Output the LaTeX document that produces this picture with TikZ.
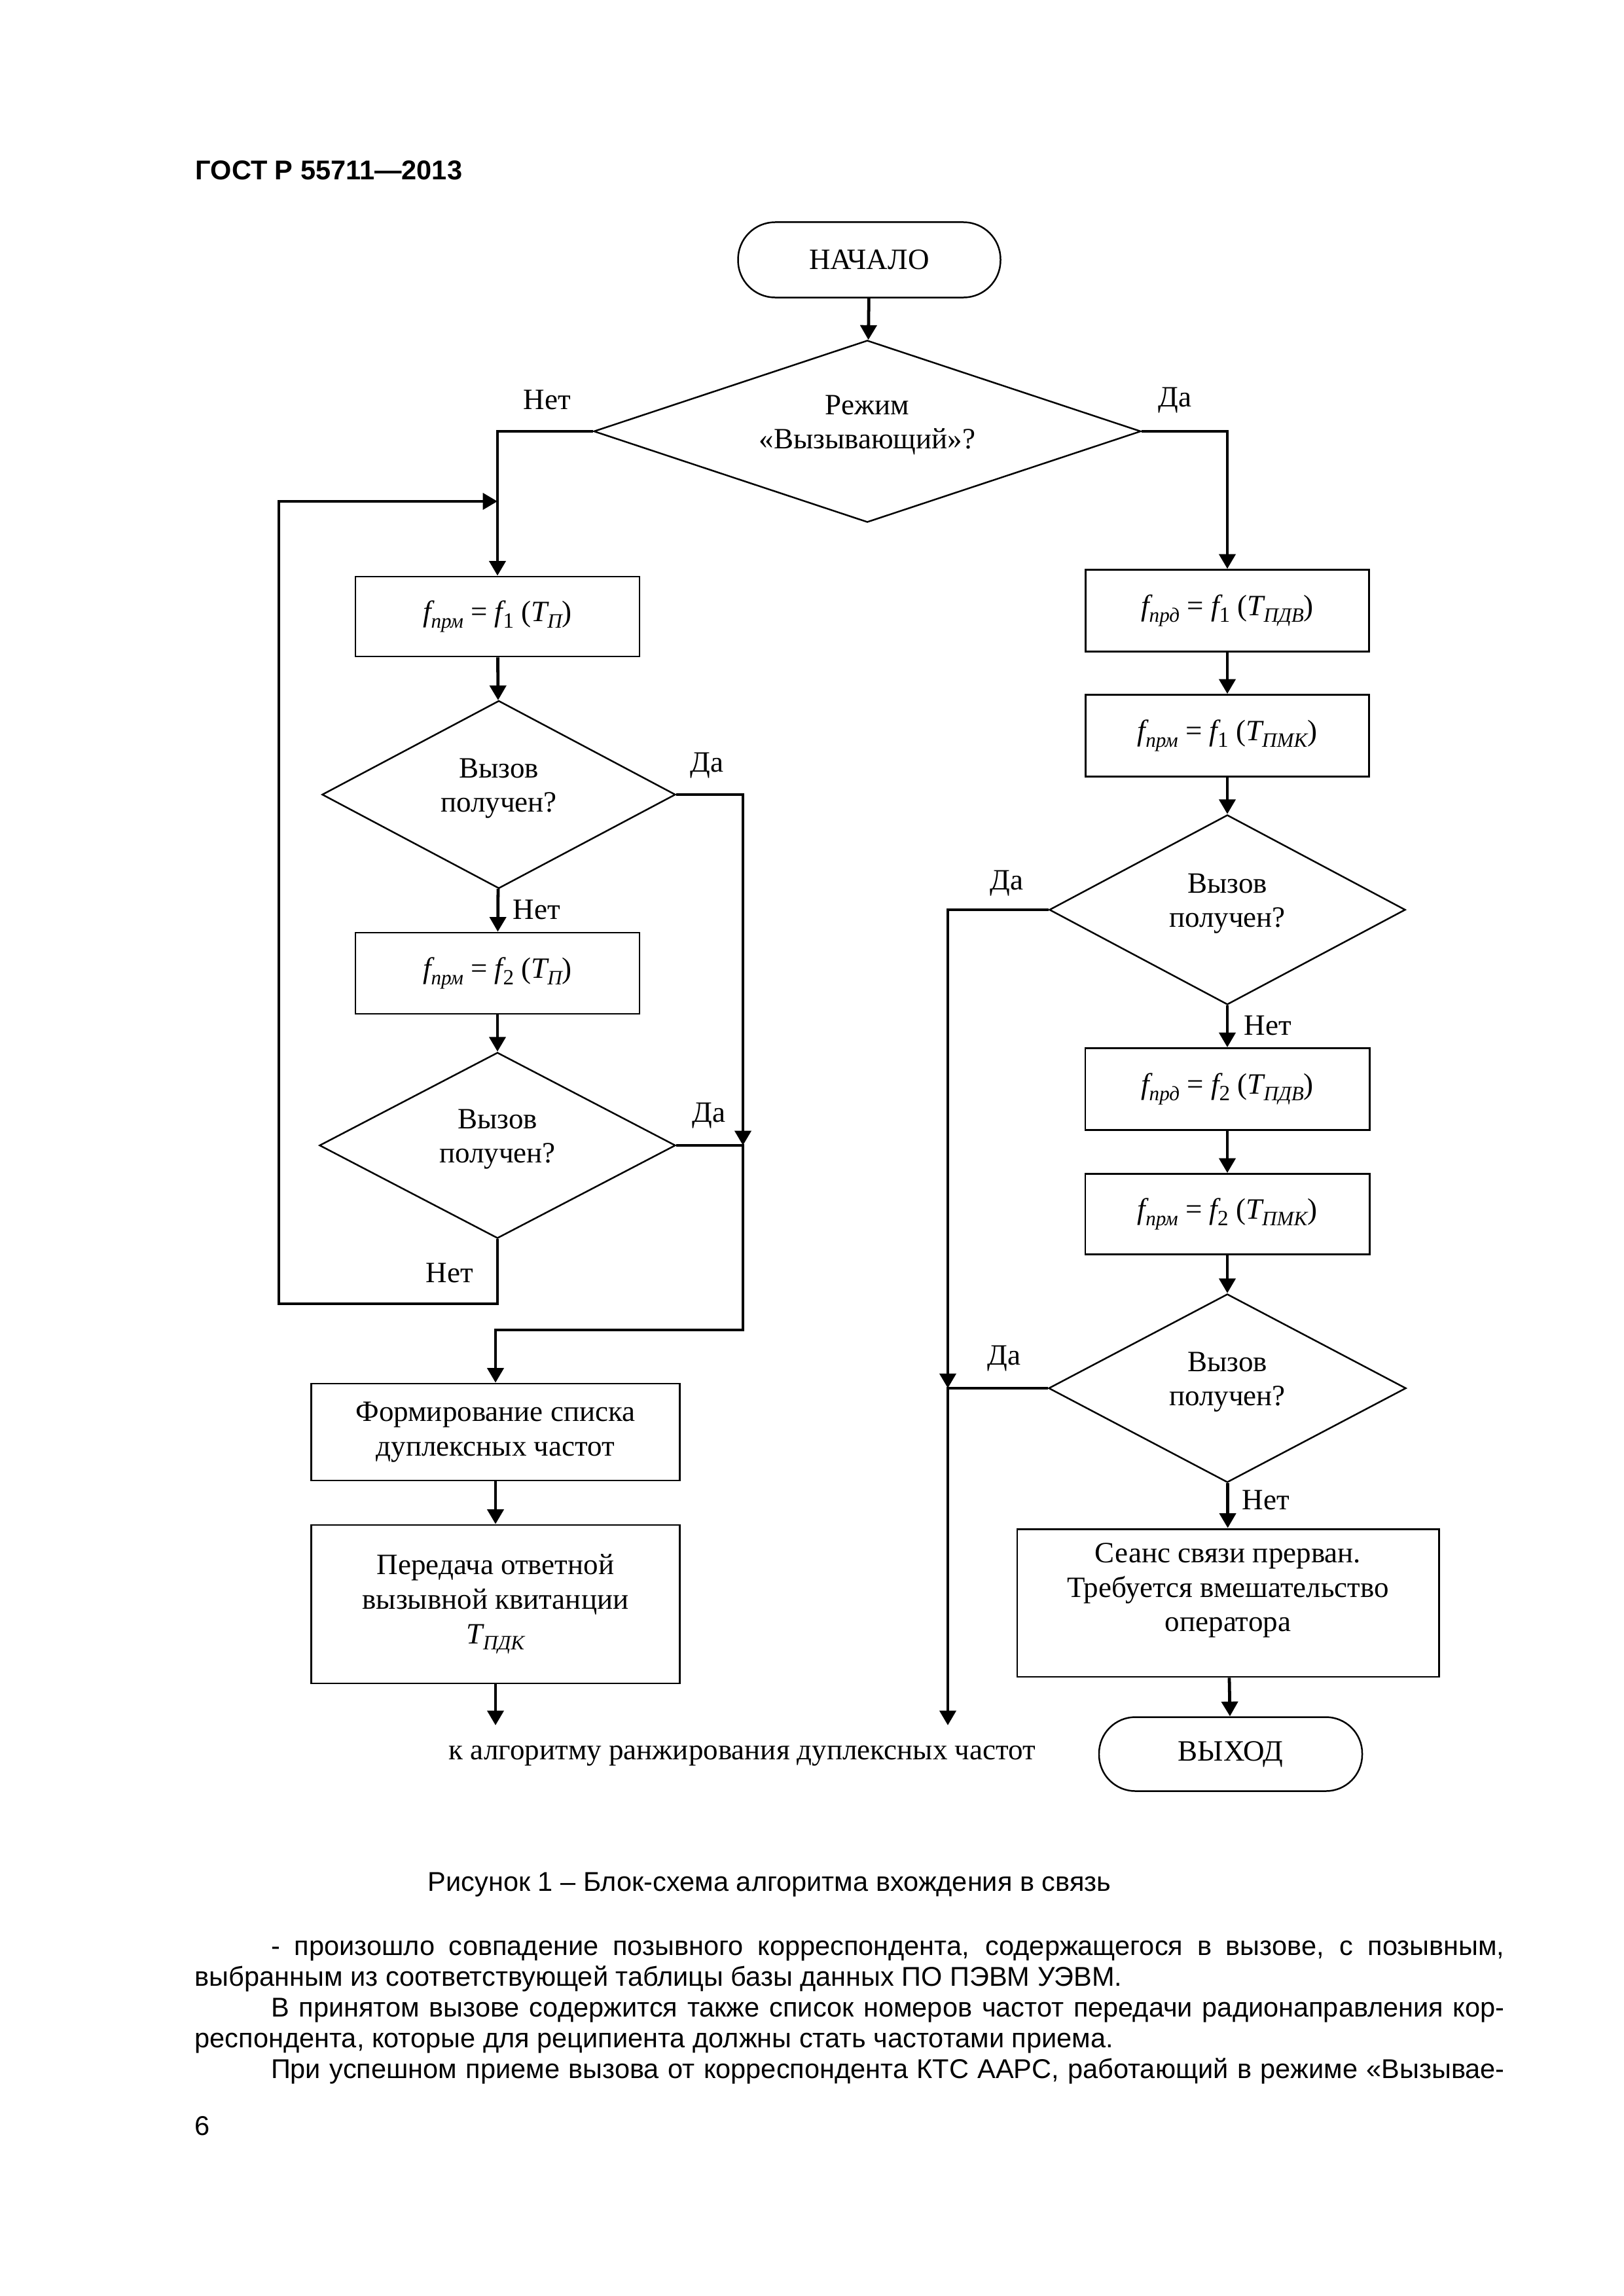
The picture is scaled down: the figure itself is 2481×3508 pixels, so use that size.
\documentclass[tikz,border=0pt]{standalone}
\usepackage{fontspec}
\setmainfont{Liberation Serif}
\newfontfamily\arialf{Liberation Sans}
\usetikzlibrary{shapes.geometric,arrows.meta}
\newcommand{\isb}[1]{\raisebox{-0.45ex}{\fontsize{7.5}{8}\selectfont\itshape #1}}
\newcommand{\nsb}[1]{\raisebox{-0.45ex}{\fontsize{8}{8}\selectfont #1}}
\newcommand{\fx}{{\itshape f}}
\newcommand{\Tx}{{\itshape T}}
\begin{document}
\begin{tikzpicture}[x=0.0846667mm,y=-0.0846667mm,
  font=\fontsize{10.85}{12.7}\selectfont,
  conn/.style={line width=1.15pt,-{Triangle[length=1.9mm,width=2.1mm]}},
  plain/.style={line width=1.15pt},
  box/.style={draw,rectangle,line width=0.7pt,align=center,inner sep=0pt},
  dia/.style={draw,diamond,line width=0.6pt,inner sep=0pt},
  term/.style={draw,rectangle,rounded corners=4.8mm,line width=0.6pt,inner sep=0pt},
  lbl/.style={align=center,yshift=0.8mm},
  yn/.style={inner sep=0pt},
  sans/.style={font=\arialf\fontsize{10}{11.3}\selectfont,inner sep=0pt}]
\useasboundingbox (0,0) rectangle (2481,3508);

% header
\node[sans,font=\arialf\bfseries\fontsize{10}{12}\selectfont,anchor=base west] (hdr) at (298,274) {ГОСТ Р 55711—2013};

% start / first decision
\node[term,minimum width=33.95mm,minimum height=9.74mm] (start) at (1328,397) {НАЧАЛО};
\node[dia,minimum width=70.78mm,minimum height=23.54mm,
  label={[lbl]center:Режим\\«Вызывающий»?}] (d0) at (1325,659) {};

% left column
\node[box,minimum width=36.75mm,minimum height=10.33mm] (bl1) at (760,942) {\fx\isb{прм} = \fx\nsb{1} (\Tx\isb{П})};
\node[dia,minimum width=45.72mm,minimum height=24.30mm,
  label={[lbl]center:Вызов\\получен?}] (d1) at (762,1214) {};
\node[box,minimum width=36.75mm,minimum height=10.50mm] (bl2) at (760,1487) {\fx\isb{прм} = \fx\nsb{2} (\Tx\isb{П})};
\node[dia,minimum width=46.06mm,minimum height=24.05mm,
  label={[lbl]center:Вызов\\получен?}] (d2) at (760,1750) {};
\node[box,minimum width=47.67mm,minimum height=12.53mm] (bf) at (757,2188) {Формирование списка\\дуплексных частот};
\node[box,minimum width=47.67mm,minimum height=20.49mm] (bp) at (757,2451) {Передача ответной\\вызывной квитанции\\\Tx\isb{ПДК}};

% right column
\node[box,minimum width=36.66mm,minimum height=10.58mm] (br1) at (1875,933) {\fx\isb{прд} = \fx\nsb{1} (\Tx\isb{ПДВ})};
\node[box,minimum width=36.66mm,minimum height=10.58mm] (br2) at (1875,1124) {\fx\isb{прм} = \fx\nsb{1} (\Tx\isb{ПМК})};
\node[dia,minimum width=46.06mm,minimum height=24.55mm,
  label={[lbl]center:Вызов\\получен?}] (dr1) at (1875,1390) {};
\node[box,minimum width=36.75mm,minimum height=10.58mm] (br3) at (1875,1664) {\fx\isb{прд} = \fx\nsb{2} (\Tx\isb{ПДВ})};
\node[box,minimum width=36.75mm,minimum height=10.41mm] (br4) at (1875,1855) {\fx\isb{прм} = \fx\nsb{2} (\Tx\isb{ПМК})};
\node[dia,minimum width=46.23mm,minimum height=24.38mm,
  label={[lbl]center:Вызов\\получен?}] (dr2) at (1875,2121) {};
\node[box,minimum width=54.53mm,minimum height=19.13mm,
  label={[align=center,yshift=1.6mm]center:Сеанс связи прерван.\\Требуется вмешательство\\оператора}] (bs) at (1876,2449) {};
\node[term,minimum width=34.04mm,minimum height=9.57mm,rounded corners=4.7mm] (end) at (1880,2680) {ВЫХОД};

\node[inner sep=0pt,anchor=west] (tonext) at (685,2683) {к алгоритму ранжирования дуплексных частот};

% helper coordinates
\coordinate (rx) at (1135,0);
\coordinate (lc) at (1135,2032);
\coordinate (lp2) at (426,1992);
\coordinate (lp3) at (426,766);
\coordinate (lp4) at (760,766);
\coordinate (lx) at (1448,0);
\coordinate (outL) at (757,2636);
\coordinate (outR) at (1448,2636);

% connectors
\draw[conn] (start) -- (d0);
\draw[conn] (d0.west) -| (bl1.north);
\draw[conn] (d0.east) -| (br1.north);
\draw[conn] (bl1) -- (d1);
\draw[conn] (d1) -- (bl2);
\draw[conn] (bl2) -- (d2);
\draw[conn] (d2.south) |- (lp2) -- (lp3) -- (lp4);
\draw[conn] (d1.east) -| (d2.east -| rx);
\draw[conn] (d2.east) -| (lc) -| (bf.north);
\draw[conn] (bf) -- (bp);
\draw[conn] (bp.south) -- (outL);

\draw[conn] (br1) -- (br2);
\draw[conn] (br2) -- (dr1);
\draw[conn] (dr1) -- (br3);
\draw[conn] (br3) -- (br4);
\draw[conn] (br4) -- (dr2);
\draw[conn] (dr2) -- (bs);
\draw[conn] (bs) -- (end);
\draw[conn] (dr1.west) -| (dr2.west -| lx);
\draw[conn] (dr2.west) -| (outR);

% yes / no labels
\node[yn] (n0) at (836,611) {Нет};
\node[yn] (y0) at (1795,612) {Да};
\node[yn] (y1) at (1080,1170) {Да};
\node[yn] (n1) at (820,1390) {Нет};
\node[yn] (y2) at (1083,1705) {Да};
\node[yn] (n2) at (687,1945) {Нет};
\node[yn] (y3) at (1538,1350) {Да};
\node[yn] (n3) at (1937,1567) {Нет};
\node[yn] (y4) at (1534,2076) {Да};
\node[yn] (n4) at (1934,2292) {Нет};

% caption and body text
\node[sans,anchor=base west] (cap) at (653,2889) {Рисунок 1 – Блок-схема алгоритма вхождения в связь};
\node[sans,anchor=base west] (b1) at (297,2987) {\makebox[482pt][s]{\hspace*{28pt}- произошло совпадение позывного корреспондента, содержащегося в вызове, с позывным,}};
\node[sans,anchor=base west] (b2) at (297,3034) {выбранным из соответствующей таблицы базы данных ПО ПЭВМ УЭВМ.};
\node[sans,anchor=base west] (b3) at (297,3081) {\makebox[482pt][s]{\hspace*{28pt}В принятом вызове содержится также список номеров частот передачи радионаправления кор-}};
\node[sans,anchor=base west] (b4) at (297,3128) {респондента, которые для реципиента должны стать частотами приема.};
\node[sans,anchor=base west] (b5) at (297,3175) {\makebox[482pt][s]{\hspace*{28pt}При успешном приеме вызова от корреспондента КТС ААРС, работающий в режиме «Вызывае-}};
\node[sans,anchor=base west] (pg) at (297,3262) {6};
\end{tikzpicture}
\end{document}
